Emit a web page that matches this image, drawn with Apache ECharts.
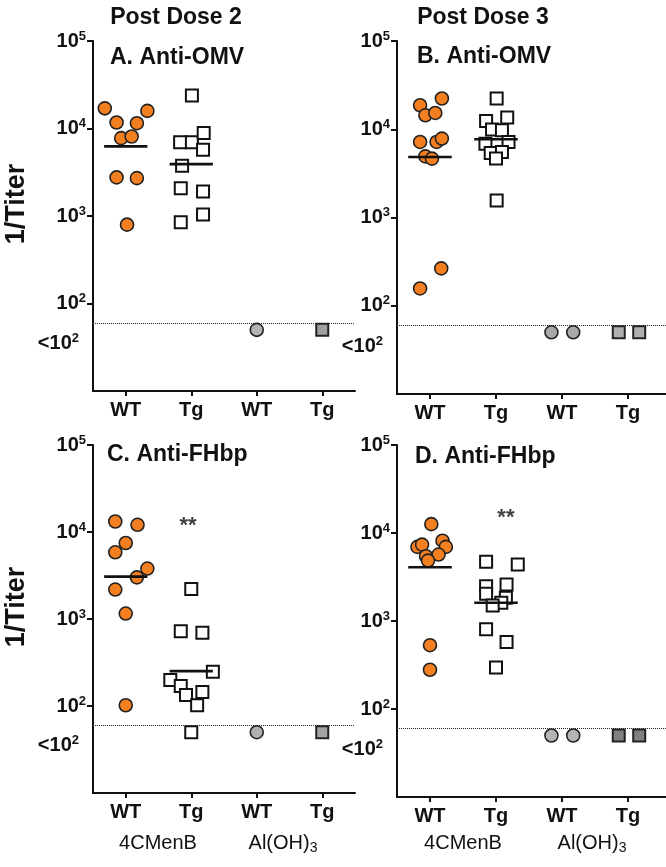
<!DOCTYPE html>
<html><head><meta charset="utf-8">
<script src="https://cdn.jsdelivr.net/npm/echarts@6/dist/echarts.min.js"></script>
<style>html,body{margin:0;padding:0;background:#fff}#c{width:666px;height:867px}</style>
</head><body><div id="c"></div>
<script>
// ---------- data ----------
const xTickValues = [1, 2, 3, 4];
const xTickLabels = ['WT', 'Tg', 'WT', 'Tg'];
const yTickValues = [100, 1000, 10000, 100000];
const belowLimitLabelValue = 35;
const detectionLimit = 60;
const columnTitles = ['Post Dose 2', 'Post Dose 3'];
const panelTitles = ['A. Anti-OMV', 'B. Anti-OMV', 'C. Anti-FHbp', 'D. Anti-FHbp'];
const groupLabels = ['4CMenB', 'Al(OH)'];

// Panel A (Post dose 2, anti-OMV)
const A_WT = [17000, 11700, 11500, 15900, 7760, 8100, 2760, 2710, 796];
const A_WT_JIT = [-0.32, -0.14, 0.17, 0.33, -0.07, 0.09, -0.14, 0.17, 0.02];
const A_WT_MEAN = 6240;
const A_TG = [23800, 6980, 6980, 8860, 5710, 3750, 2080, 1910, 1040, 847];
const A_TG_JIT = [0.01, -0.17, 0.01, 0.19, 0.18, -0.14, -0.16, 0.18, 0.18, -0.16];
const A_TG_MEAN = 3920;
const A_AL_WT = [50]; const A_AL_WT_JIT = [0];
const A_AL_TG = [50]; const A_AL_TG_JIT = [0];

// Panel B (Post dose 3, anti-OMV)
const B_WT = [18700, 22300, 14400, 15300, 7180, 7180, 7840, 4930, 4650, 265, 157];
const B_WT_JIT = [-0.15, 0.18, -0.07, 0.08, -0.15, 0.10, 0.18, -0.07, 0.03, 0.17, -0.15];
const B_WT_MEAN = 4850;
const B_TG = [22300, 12400, 13600, 9910, 9750, 6870, 7180, 5380, 5520, 4650, 1560];
const B_TG_JIT = [0.01, -0.15, 0.17, -0.06, 0.09, -0.16, 0.19, -0.08, 0.09, 0, 0.01];
const B_TG_MEAN = 7690;
const B_AL_WT = [50, 50]; const B_AL_WT_JIT = [-0.16, 0.17];
const B_AL_TG = [50, 50]; const B_AL_TG_JIT = [-0.14, 0.17];

// Panel C (Post dose 2, anti-FHbp)
const C_WT = [13200, 12100, 7470, 5840, 3800, 3010, 2180, 1155, 102];
const C_WT_JIT = [-0.16, 0.18, 0, -0.16, 0.33, 0.17, -0.16, 0, 0];
const C_WT_MEAN = 3070;
const C_TG = [2210, 724, 693, 248, 199, 170, 134, 145, 102, 50];
const C_TG_JIT = [0, -0.16, 0.17, 0.33, -0.32, -0.16, -0.08, 0.17, 0.09, 0];
const C_TG_MEAN = 252;
const C_AL_WT = [50]; const C_AL_WT_JIT = [0];
const C_AL_TG = [50]; const C_AL_TG_JIT = [0];
const C_SIG = { x: 1.95, y: 13300, text: '**' };

// Panel D (Post dose 3, anti-FHbp)
const D_WT = [12600, 6950, 7380, 8180, 6950, 5690, 5450, 4860, 531, 279];
const D_WT_JIT = [0.02, -0.19, -0.12, 0.19, 0.24, 0.13, -0.06, -0.03, 0, 0];
const D_WT_MEAN = 4080;
const D_TG = [4700, 4390, 2490, 2600, 2040, 1840, 1615, 1500, 805, 578, 297];
const D_TG_JIT = [-0.15, 0.33, -0.15, 0.16, -0.15, 0.15, 0.08, -0.05, -0.15, 0.16, 0];
const D_TG_MEAN = 1615;
const D_AL_WT = [50, 50]; const D_AL_WT_JIT = [-0.16, 0.17];
const D_AL_TG = [50, 50]; const D_AL_TG_JIT = [-0.14, 0.17];
const D_SIG = { x: 2.15, y: 16800, text: '**' };

// ---------- layout / style ----------
const FONT = 'Liberation Sans, Arial, Helvetica, sans-serif';
const grids = [
  { left: 93, top: 41, width: 262, height: 350 },
  { left: 397, top: 41, width: 269, height: 353 },
  { left: 93, top: 445, width: 262, height: 348 },
  { left: 397, top: 445, width: 269, height: 352 }
];
const xMax = [4.5, 4.576, 4.5, 4.576];
const ORANGE = '#F47F20';
const grayCircle = ['#b3b3b3', '#a8a8a8', '#b0b0b0', '#b5b5b5'];
const graySquare = ['#a0a0a0', '#b0b0b0', '#a3a3a3', '#808080'];

const panels = [
  { wt: A_WT, wtJ: A_WT_JIT, wtM: A_WT_MEAN, tg: A_TG, tgJ: A_TG_JIT, tgM: A_TG_MEAN, aw: A_AL_WT, awJ: A_AL_WT_JIT, at: A_AL_TG, atJ: A_AL_TG_JIT },
  { wt: B_WT, wtJ: B_WT_JIT, wtM: B_WT_MEAN, tg: B_TG, tgJ: B_TG_JIT, tgM: B_TG_MEAN, aw: B_AL_WT, awJ: B_AL_WT_JIT, at: B_AL_TG, atJ: B_AL_TG_JIT },
  { wt: C_WT, wtJ: C_WT_JIT, wtM: C_WT_MEAN, tg: C_TG, tgJ: C_TG_JIT, tgM: C_TG_MEAN, aw: C_AL_WT, awJ: C_AL_WT_JIT, at: C_AL_TG, atJ: C_AL_TG_JIT, sig: C_SIG },
  { wt: D_WT, wtJ: D_WT_JIT, wtM: D_WT_MEAN, tg: D_TG, tgJ: D_TG_JIT, tgM: D_TG_MEAN, aw: D_AL_WT, awJ: D_AL_WT_JIT, at: D_AL_TG, atJ: D_AL_TG_JIT, sig: D_SIG }
];

function pts(tick, vals, jit) { return vals.map((v, i) => [tick + jit[i], v]); }

const xAxes = [], yAxes = [], series = [];
grids.forEach((g, i) => {
  xAxes.push({
    type: 'value', gridIndex: i, min: 0.5, max: xMax[i],
    axisLine: { onZero: false, lineStyle: { color: '#111', width: 2 } },
    axisTick: { customValues: xTickValues, length: 5, lineStyle: { width: 2, color: '#111' } },
    axisLabel: { customValues: xTickValues, margin: 9, formatter: v => xTickLabels[Math.round(v) - 1] || '',
      fontFamily: FONT, fontWeight: 'bold', fontSize: 20, color: '#111' },
    splitLine: { show: false }
  });
  yAxes.push({
    type: 'log', logBase: 10, gridIndex: i, min: 10, max: 100000,
    axisLine: { show: true, lineStyle: { color: '#111', width: 2 } },
    axisTick: { show: true, customValues: yTickValues, length: 6, lineStyle: { width: 2, color: '#111' } },
    axisLabel: {
      customValues: [belowLimitLabelValue].concat(yTickValues), margin: 7,
      formatter: v => v < detectionLimit ? '{b|<10}{s|2}{sp|}' : '{b|10}{s|' + Math.round(Math.log10(v)) + '}',
      rich: {
        b: { fontFamily: FONT, fontWeight: 'bold', fontSize: 20, color: '#111' },
        s: { fontFamily: FONT, fontWeight: 'bold', fontSize: 13, color: '#111', padding: [0, 0, 10, 0] },
        sp: { width: 7 }
      }
    },
    splitLine: { show: false }
  });
  const p = panels[i];
  const base = { xAxisIndex: i, yAxisIndex: i, type: 'scatter', silent: true };
  series.push(Object.assign({}, base, {
    data: pts(1, p.wt, p.wtJ), symbol: 'circle', symbolSize: 13, z: 3,
    itemStyle: { color: ORANGE, borderColor: '#222', borderWidth: 1.6, opacity: 1 },
    markLine: { silent: true, symbol: 'none', label: { show: false },
      lineStyle: { type: 'dotted', color: '#222', width: 1 }, data: [{ yAxis: detectionLimit }] }
  }));
  series.push(Object.assign({}, base, {
    data: pts(2, p.tg, p.tgJ), symbol: 'rect', symbolSize: 12, z: 3,
    itemStyle: { color: '#fff', borderColor: '#111', borderWidth: 2, opacity: 1 }
  }));
  series.push(Object.assign({}, base, {
    data: pts(3, p.aw, p.awJ), symbol: 'circle', symbolSize: 13, z: 3,
    itemStyle: { color: grayCircle[i], borderColor: '#222', borderWidth: 1.6, opacity: 1 }
  }));
  series.push(Object.assign({}, base, {
    data: pts(4, p.at, p.atJ), symbol: 'rect', symbolSize: 12, z: 3,
    itemStyle: { color: graySquare[i], borderColor: '#222', borderWidth: 2, opacity: 1 }
  }));
  [[1, p.wtM], [2, p.tgM]].forEach(([t, m]) => {
    series.push({ type: 'line', xAxisIndex: i, yAxisIndex: i, silent: true, z: 5,
      data: [[t - 0.33, m], [t + 0.33, m]], symbol: 'none',
      lineStyle: { color: '#111', width: 2.6 } });
  });
  if (p.sig) {
    series.push(Object.assign({}, base, {
      data: [[p.sig.x, p.sig.y]], symbolSize: 0, z: 6,
      label: { show: true, position: 'inside', formatter: p.sig.text, offset: [0, 5],
        fontFamily: FONT, fontSize: 22, fontWeight: 'bold', color: '#111' }
    }));
  }
});

const txt = (x, y, text, size, weight, align, rot) => ({
  type: 'text', x: x, y: y, rotation: rot || 0,
  style: { text: text, font: (weight || 'bold') + ' ' + size + 'px ' + FONT, fill: '#111',
    textAlign: align || 'center', textVerticalAlign: 'middle' }
});
const subText = (x, y) => ({ type: 'text', x: x, y: y, style: { text: '{a|' + groupLabels[1] + '}{b|3}',
  rich: { a: { fontFamily: FONT, fontSize: 20, fill: '#111' }, b: { fontFamily: FONT, fontSize: 14, fill: '#111', padding: [10, 0, 0, 0] } },
  textAlign: 'center', textVerticalAlign: 'middle' } });

const graphic = [
  txt(176, 18, columnTitles[0], 23),
  txt(483, 18, columnTitles[1], 23),
  txt(110, 58, panelTitles[0], 23, 'bold', 'left'),
  txt(417, 57, panelTitles[1], 23, 'bold', 'left'),
  txt(107, 455, panelTitles[2], 23, 'bold', 'left'),
  txt(415, 457, panelTitles[3], 23, 'bold', 'left'),
  txt(17, 204, '1/Titer', 27, 'bold', 'center', Math.PI / 2),
  txt(17, 607, '1/Titer', 27, 'bold', 'center', Math.PI / 2),
  txt(158, 843, groupLabels[0], 20, 'normal'),
  txt(463, 843, groupLabels[0], 20, 'normal'),
  subText(283, 843),
  subText(592, 843)
];

const chart = echarts.init(document.getElementById('c'), null, { renderer: 'canvas' });
chart.setOption({
  animation: false,
  backgroundColor: '#fff',
  grid: grids,
  xAxis: xAxes,
  yAxis: yAxes,
  series: series,
  graphic: graphic
});
</script></body></html>
